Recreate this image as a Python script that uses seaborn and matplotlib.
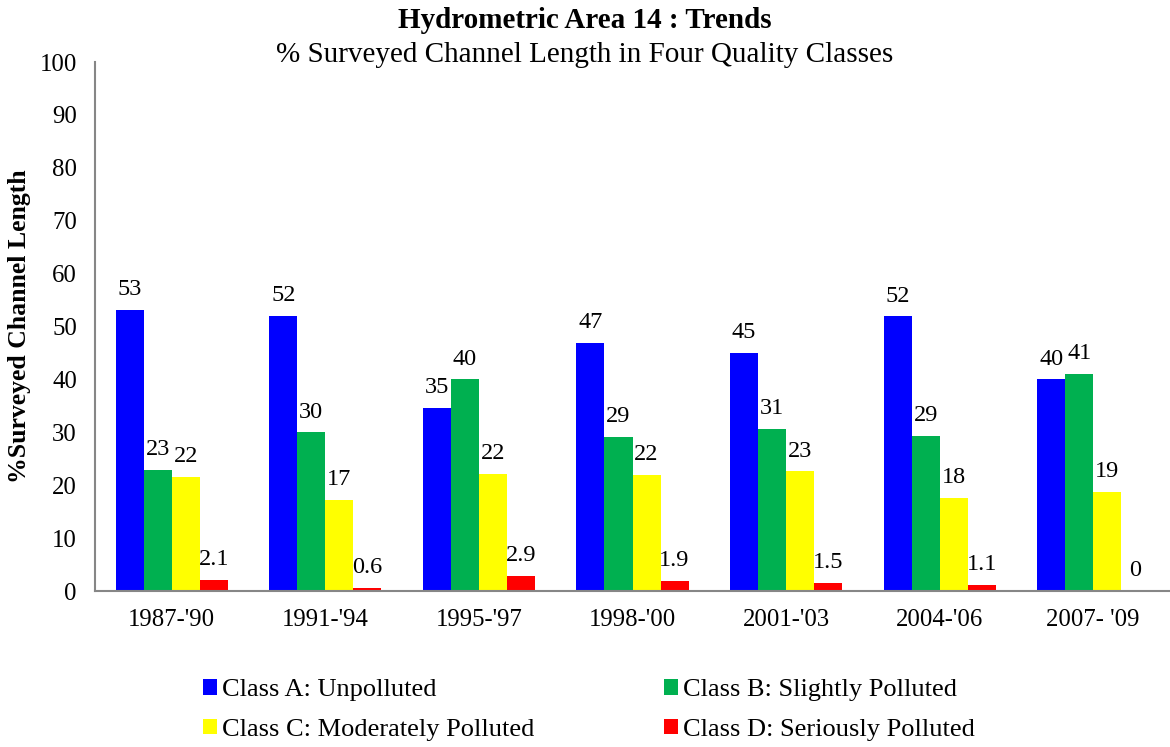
import matplotlib
matplotlib.use("Agg")
import matplotlib.pyplot as plt
from matplotlib.patches import Patch
import seaborn as sns
import pandas as pd

# data
periods = ["1987-'90", "1991-'94", "1995-'97", "1998-'00", "2001-'03", "2004-'06", "2007- '09"]
classes = ["Class A: Unpolluted", "Class B: Slightly Polluted",
           "Class C: Moderately Polluted", "Class D: Seriously Polluted"]
class_a = [53.2, 52.0, 34.6, 46.9, 45.0, 51.9, 40.0]
class_b = [22.9, 30.0, 40.0, 29.1, 30.7, 29.3, 41.1]
class_c = [21.6, 17.3, 22.1, 21.9, 22.6, 17.6, 18.8]
class_d = [2.1, 0.6, 2.9, 1.9, 1.5, 1.1, 0.0]
colors = ["#0000FF", "#00B050", "#FFFF00", "#FF0000"]

rows = []
for cls, vals in zip(classes, [class_a, class_b, class_c, class_d]):
    for p, v in zip(periods, vals):
        rows.append({"period": p, "cls": cls, "value": v})
df = pd.DataFrame(rows)

sns.set_style("white")
plt.rcParams['font.family'] = ['Liberation Serif', 'DejaVu Serif']
plt.rcParams['text.color'] = 'black'
plt.rcParams['axes.labelcolor'] = 'black'

fig = plt.figure(figsize=(11.7, 7.47), dpi=100)
ax = fig.add_axes([0.0812, 0.2088, 0.9188, 0.7082])

sns.barplot(data=df, x="period", y="value", hue="cls", order=periods, hue_order=classes,
            palette=colors, saturation=1, width=0.73, linewidth=0, legend=False, ax=ax)

def fmt(v):
    if v == 0:
        return "0"
    return f"{v:.0f}" if v >= 10 else f"{v:.1f}"

for cont, vals in zip(ax.containers, [class_a, class_b, class_c, class_d]):
    ax.bar_label(cont, labels=[fmt(v) for v in vals], padding=7, fontsize=17.5, color="black")

ax.set_ylim(0, 100)
ax.set_xlim(-0.5, len(periods) - 0.5)
ax.set_yticks(range(0, 101, 10))
ax.set_xticks(range(len(periods)))
ax.set_xticklabels(periods)
ax.set_xticks([i + 0.5 for i in range(-1, len(periods))], minor=True)
ax.tick_params(axis="x", which="major", length=0, pad=13, labelsize=17.8, labelcolor="black")
ax.tick_params(axis="x", which="minor", length=7, width=1.3, color="#868686", direction="out")
ax.tick_params(axis="y", length=7, width=1.3, color="#868686", direction="out",
               labelsize=17.8, pad=6, labelcolor="black")
ax.set_xlabel("")
ax.set_ylabel("%Surveyed Channel Length", fontsize=18.5, fontweight="bold")
ax.yaxis.set_label_coords(-0.0595, 0.5)

for s in ["top", "right"]:
    ax.spines[s].set_visible(False)
for s in ["left", "bottom"]:
    ax.spines[s].set_color("#868686")
    ax.spines[s].set_linewidth(1.5)

fig.text(0.5, 0.972, "Hydrometric Area 14 : Trends", ha="center", va="center",
         fontsize=21, fontweight="bold")
fig.text(0.5, 0.927, "% Surveyed Channel Length in Four Quality Classes", ha="center",
         va="center", fontsize=21)

handles = [Patch(facecolor=c, edgecolor="none") for c in colors]
order = [0, 2, 1, 3]
fig.legend([handles[i] for i in order], [classes[i] for i in order], ncol=2,
           loc="upper left", bbox_to_anchor=(0.1735, 0.0906), frameon=False, fontsize=19,
           handlelength=0.53, handleheight=0.53, handletextpad=0.19, columnspacing=4.9,
           labelspacing=0.65, borderaxespad=0, borderpad=0)

fig.savefig("out.png", dpi=100)
